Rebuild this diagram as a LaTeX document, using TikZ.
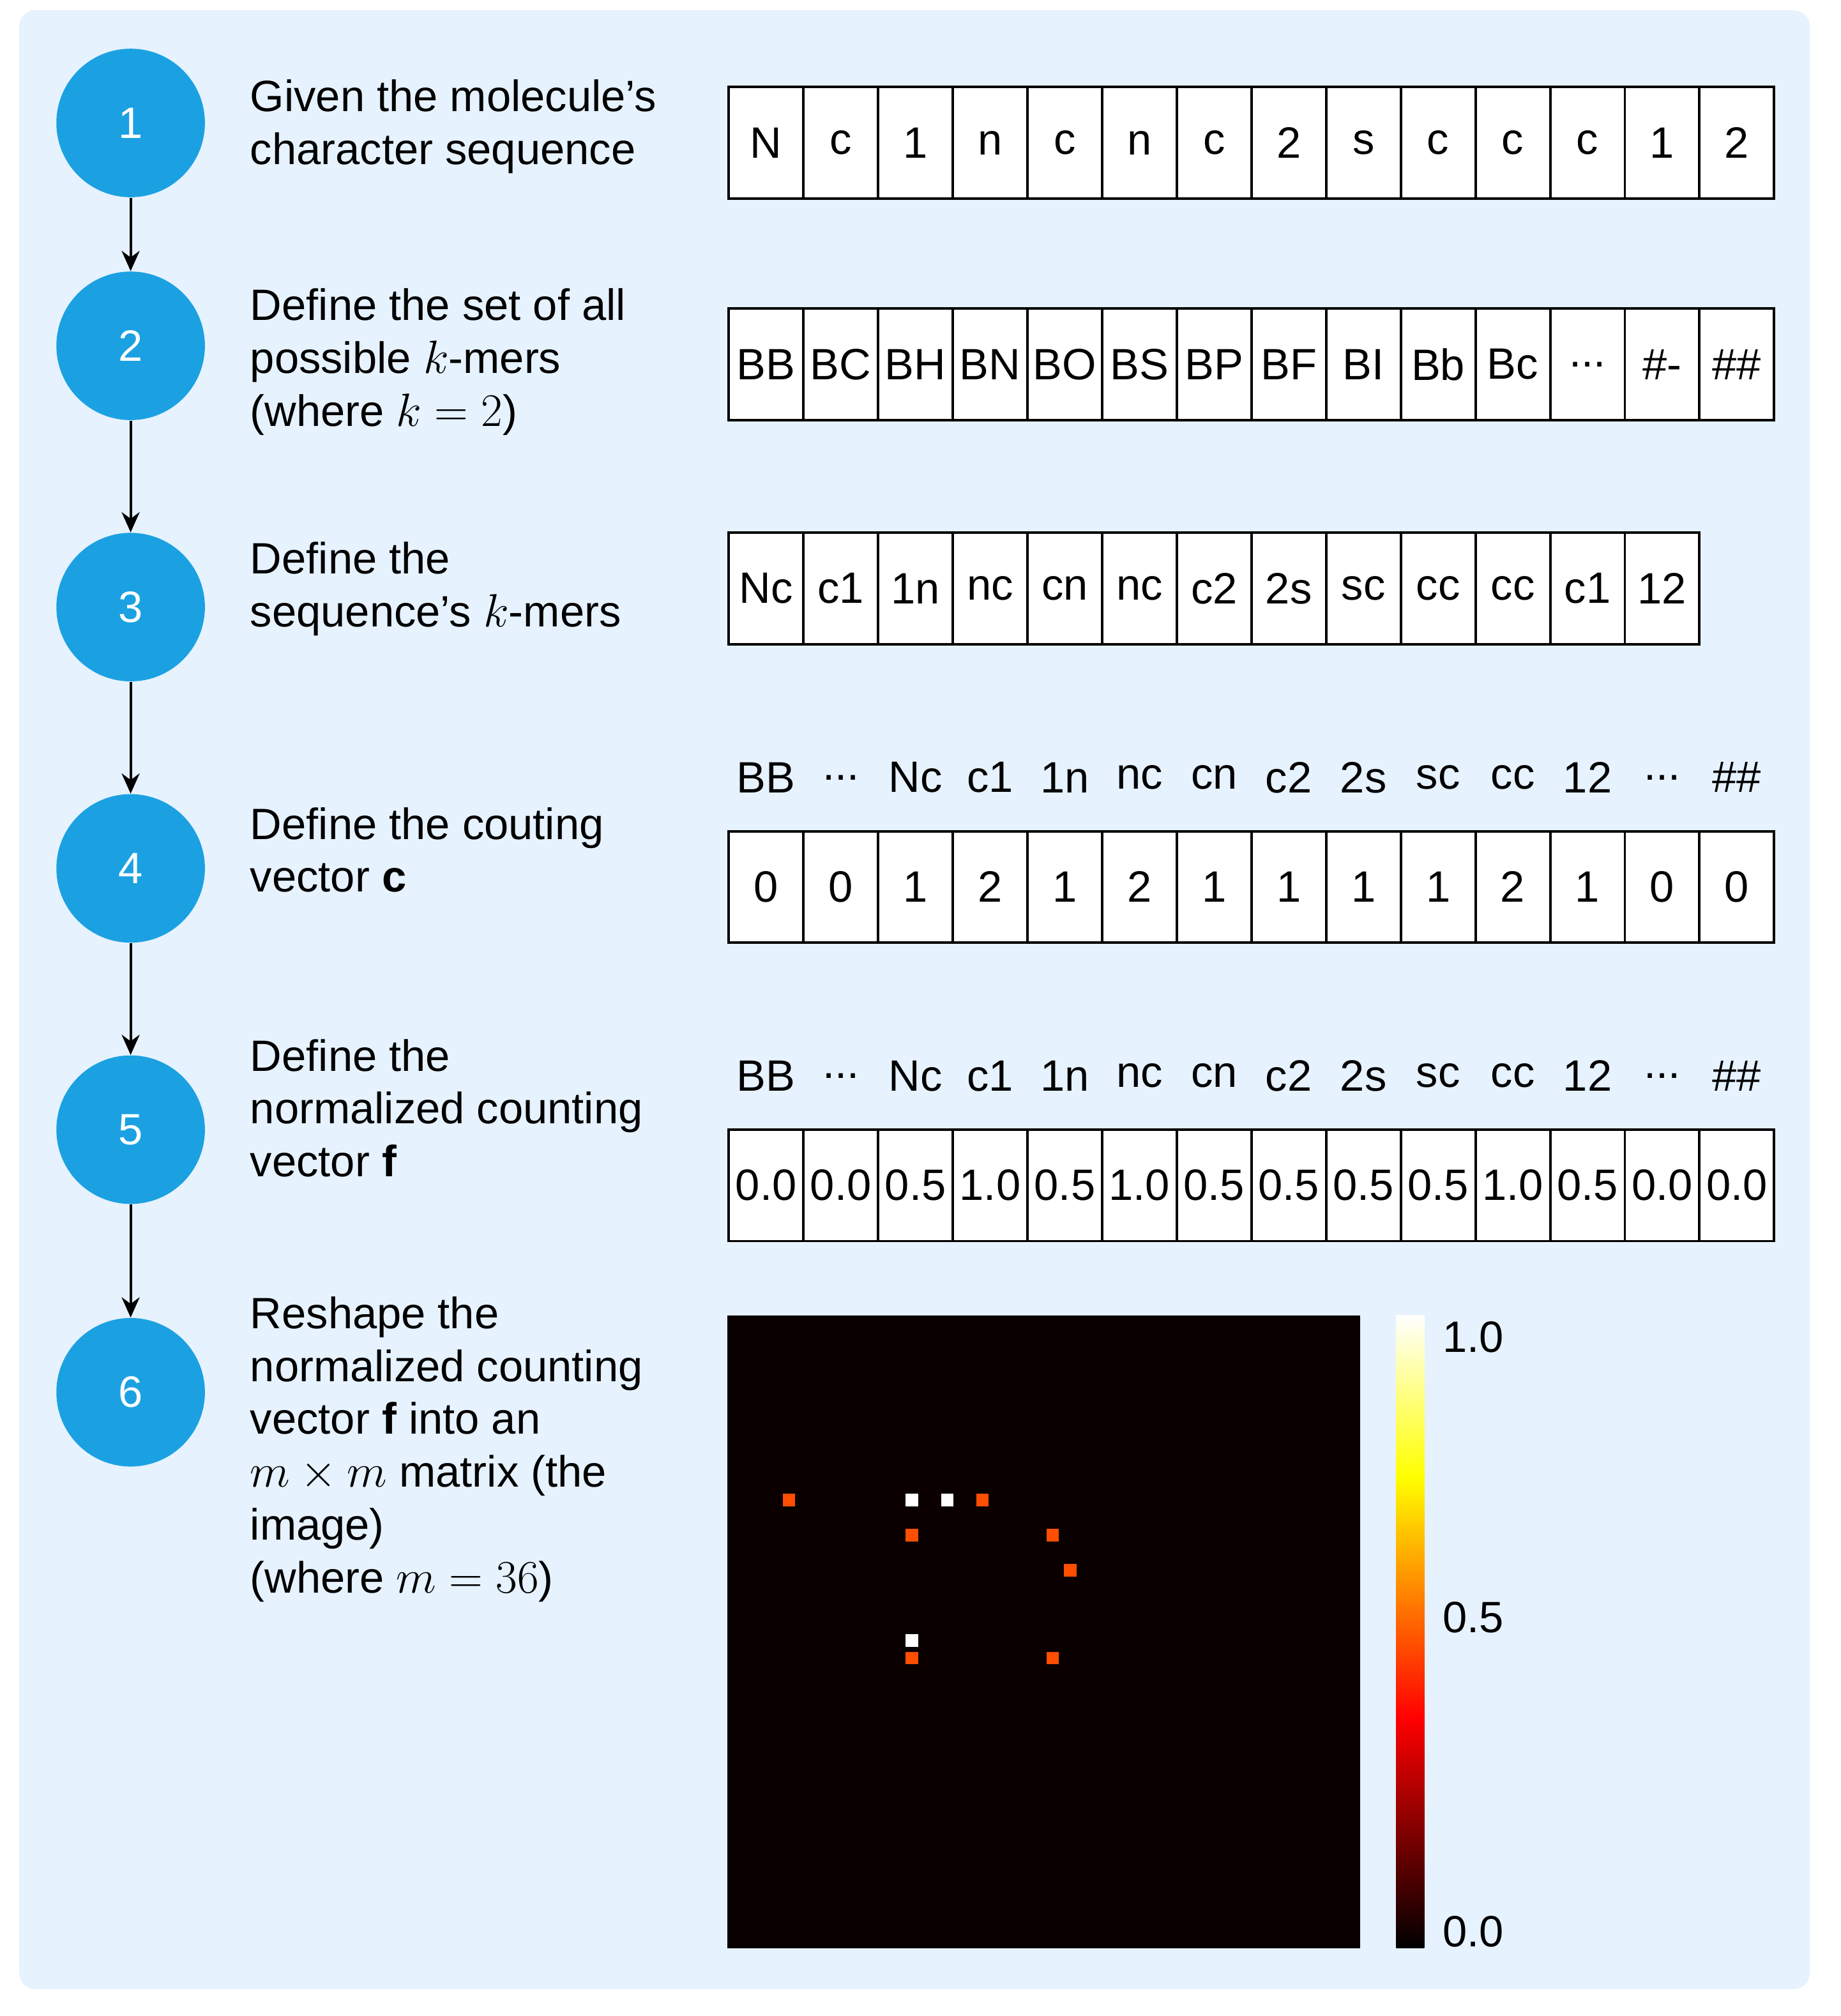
\documentclass[tikz,border=0pt]{standalone}
\usepackage{fontspec}
\setmainfont{Liberation Sans}
\usetikzlibrary{arrows.meta}
\definecolor{bg}{HTML}{E6F2FE}
\definecolor{circ}{HTML}{1BA1E2}
\definecolor{hmid}{HTML}{FF4E00}
\definecolor{hdark}{HTML}{0B0000}
\newcommand\mydots{...}
\tikzset{
 stepc/.style={circle,fill=circ,minimum size=1.16cm*2,text=white,inner sep=0,font=\fontsize{19.5}{23.5}\selectfont},
 lbl/.style={anchor=north west,align=left,inner sep=0,font=\fontsize{19.5}{23.5}\selectfont},
 cell/.style={draw=black,line width=1.1pt,fill=white,minimum width=1.166cm,minimum height=1.74cm,inner sep=0,font=\fontsize{19.5}{23.5}\selectfont},
 hdr/.style={inner sep=0,font=\fontsize{19.5}{23.5}\selectfont},
 arr/.style={-{Stealth[length=9pt,width=8pt]},line width=1.1pt},
}
\begin{document}
\begin{tikzpicture}[x=0.02cm,y=-0.02cm]
\useasboundingbox (0,0) rectangle (1437,1574);
\fill[bg,rounded corners=0.25cm] (15,8) rectangle (1413,1553);
\foreach \n/\y in {1/96,2/270,3/474,4/678,5/882,6/1087}
  \node[stepc] (s\n) at (102,\y) {\n};
\foreach \a/\b in {1/2,2/3,3/4,4/5,5/6} \draw[arr] (s\a) -- (s\b);
\node[lbl] (t1) at (195,62) {Given the molecule's\\character sequence};
\node[lbl] (t2) at (195,225) {Define the set of all\\possible $k$-mers\\(where $k=2$)};
\node[lbl] (t3) at (195,423) {Define the\\sequence's $k$-mers};
\node[lbl] (t4) at (195,630) {Define the couting\\vector $\mathbf{c}$};
\node[lbl] (t5) at (195,811) {Define the\\normalized counting\\vector $\mathbf{f}$};
\node[lbl] (t6) at (195,1012) {Reshape the\\normalized counting\\vector $\mathbf{f}$ into an\\$m\times m$ matrix (the\\image)\\(where $m=36$)};
\foreach \t [count=\i from 0] in {N,c,1,n,c,n,c,2,s,c,c,c,1,2}
  \node[cell] (a\i) at (598.15+58.3*\i,111.5) {\t};
\foreach \t [count=\i from 0] in {BB,BC,BH,BN,BO,BS,BP,BF,BI,Bb,Bc,\mydots,\#-,\#\#}
  \node[cell] (b\i) at (598.15+58.3*\i,284.5) {\t};
\foreach \t [count=\i from 0] in {Nc,c1,1n,nc,cn,nc,c2,2s,sc,cc,cc,c1,12}
  \node[cell] (c\i) at (598.15+58.3*\i,459.5) {\t};
\foreach \t [count=\i from 0] in {BB,\mydots,Nc,c1,1n,nc,cn,c2,2s,sc,cc,12,\mydots,\#\#}{
  \node[hdr] (h\i) at (598.15+58.3*\i,607) {\t};
  \node[hdr] (g\i) at (598.15+58.3*\i,840) {\t};}
\foreach \t [count=\i from 0] in {0,0,1,2,1,2,1,1,1,1,2,1,0,0}
  \node[cell] (d\i) at (598.15+58.3*\i,692.5) {\t};
\foreach \t [count=\i from 0] in {0.0,0.0,0.5,1.0,0.5,1.0,0.5,0.5,0.5,0.5,1.0,0.5,0.0,0.0}
  \node[cell] (e\i) at (598.15+58.3*\i,925.5) {\t};
% heatmap
\fill[hdark] (568,1027) rectangle (1062,1521);
\foreach \c/\r/\col in {3/10/hmid,10/10/white,12/10/white,14/10/hmid,10/12/hmid,18/12/hmid,19/14/hmid,10/18/white,10/19/hmid,18/19/hmid}
  \fill[\col] (568+13.72*\c+2,1027+13.72*\r+2) rectangle ++(9.7,9.7);
% colorbar
\shade[bottom color=black,top color=red] (1090,1521) rectangle (1112,1341);
\shade[bottom color=red,top color=yellow] (1090,1341.5) rectangle (1112,1153);
\shade[bottom color=yellow,top color=white] (1090,1153.5) rectangle (1112,1027);
\node[hdr,anchor=west] (k1) at (1126,1044) {1.0};
\node[hdr,anchor=west] (k2) at (1126,1263) {0.5};
\node[hdr,anchor=west] (k3) at (1126,1508) {0.0};
\end{tikzpicture}
\end{document}
